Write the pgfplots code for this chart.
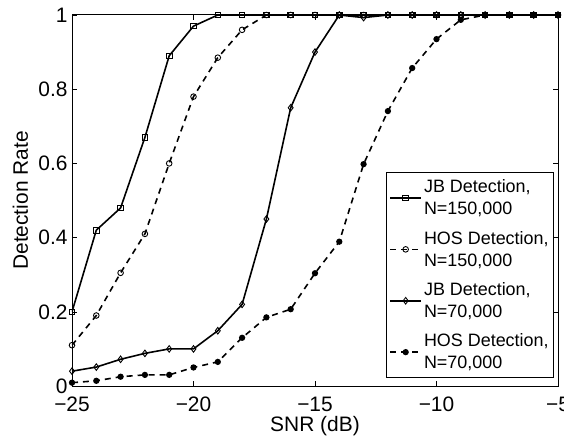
\documentclass[border=0pt]{standalone}
\usepackage{fontspec}
\setmainfont{Liberation Sans}
\usepackage{pgfplots}
\pgfplotsset{compat=1.18}
\begin{document}
\begin{tikzpicture}
\begin{axis}[
  name=ax,
  scale only axis,
  width=486bp, height=371bp,
  xmin=-25, xmax=-5, ymin=0, ymax=1,
  xtick={-25,-20,-15,-10,-5},
  xticklabels={−25,−20,−15,−10,−5},
  ytick={0,0.2,0.4,0.6,0.8,1},
  yticklabels={0,0.2,0.4,0.6,0.8,1},
  tick align=inside,
  major tick length=5bp,
  tick style={black, line width=0.6pt},
  axis line style={line width=1pt},
  ticklabel style={font=\fontsize{21}{24}\selectfont},
  xticklabel style={anchor=base, yshift=-25bp},
  yticklabel style={xshift=-1bp},
  xlabel={SNR (dB)},
  ylabel={Detection Rate},
  every axis x label/.style={at={([yshift=-45bp]axis description cs:0.5,0)}, anchor=base, font=\fontsize{21}{24}\selectfont},
  every axis y label/.style={at={([xshift=-44bp]axis description cs:0,0.5)}, rotate=90, anchor=base, font=\fontsize{21}{24}\selectfont},
  legend cell align=left,
  legend style={at={(0.992,0.022)}, anchor=south east, font=\fontsize{18}{22}\selectfont,
    nodes={align=left}, draw=black, line width=1pt, inner xsep=3bp, inner ysep=5bp, row sep=11bp},
  legend image post style={line width=1.6pt},
  legend image code/.code={\draw[mark repeat=2,mark phase=2] plot coordinates {(0cm,0cm) (0.55cm,0cm) (1.1cm,0cm)};},
]
\addplot[black, line width=1.6pt, mark=square, mark size=2.8bp, mark options={solid, line width=0.9pt}]
coordinates {(-25,0.2)(-24,0.42)(-23,0.48)(-22,0.67)(-21,0.89)(-20,0.97)(-19,1)(-18,1)(-17,1)(-16,1)(-15,1)(-14,1)(-13,1)(-12,1)(-11,1)(-10,1)(-9,1)(-8,1)(-7,1)(-6,1)(-5,1)};
\addlegendentry{JB Detection,\\N=150,000}
\addplot[black, line width=1.6pt, dash pattern=on 6bp off 5bp, mark=o, mark size=2.8bp, mark options={solid, line width=0.9pt}]
coordinates {(-25,0.11)(-24,0.19)(-23,0.305)(-22,0.41)(-21,0.60)(-20,0.78)(-19,0.885)(-18,0.96)(-17,1)(-16,1)(-15,1)(-14,1)(-13,1)(-12,1)(-11,1)(-10,1)(-9,1)(-8,1)(-7,1)(-6,1)(-5,1)};
\addlegendentry{HOS Detection,\\N=150,000}
\addplot[black, line width=1.6pt, mark=diamond, mark size=3.3bp, mark options={solid, line width=0.9pt}]
coordinates {(-25,0.04)(-24,0.051)(-23,0.072)(-22,0.088)(-21,0.10)(-20,0.10)(-19,0.149)(-18,0.22)(-17,0.45)(-16,0.75)(-15,0.90)(-14,1)(-13,0.993)(-12,1)(-11,1)(-10,1)(-9,1)(-8,1)(-7,1)(-6,1)(-5,1)};
\addlegendentry{JB Detection,\\N=70,000}
\addplot[black, line width=1.6pt, dash pattern=on 6bp off 5bp, mark=*, mark size=2.3bp, mark options={solid}]
coordinates {(-25,0.009)(-24,0.014)(-23,0.025)(-22,0.03)(-21,0.03)(-20,0.05)(-19,0.065)(-18,0.13)(-17,0.185)(-16,0.207)(-15,0.304)(-14,0.389)(-13,0.598)(-12,0.741)(-11,0.857)(-10,0.935)(-9,0.987)(-8,1)(-7,1)(-6,1)(-5,1)};
\addlegendentry{HOS Detection,\\N=70,000}
\end{axis}
\pgfresetboundingbox
\useasboundingbox ([xshift=-72bp,yshift=-53bp]ax.south west) rectangle ([xshift=6bp,yshift=15bp]ax.north east);
\end{tikzpicture}
\end{document}
